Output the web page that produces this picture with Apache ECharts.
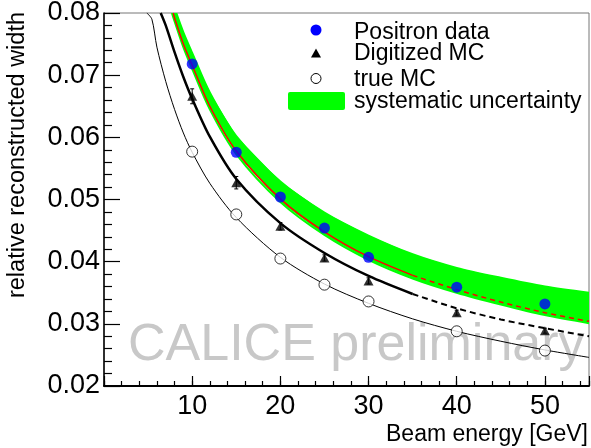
<!DOCTYPE html>
<html>
<head>
<meta charset="utf-8">
<script src="https://cdn.jsdelivr.net/npm/echarts@6/dist/echarts.min.js"></script>
<style>
  html, body { margin: 0; padding: 0; background: #fff; }
  #main { width: 591px; height: 448px; }
</style>
</head>
<body>
<div id="main"></div>
<script>
// measured points (beam energy in GeV)
var energies = [10, 15, 20, 25, 30, 40, 50];
var positronData = [0.0718, 0.0576, 0.0504, 0.0454, 0.0407, 0.0359, 0.0332];
var digitizedMC = [0.0666, 0.0527, 0.0457, 0.0406, 0.0369, 0.0318, 0.0289];
var digitizedErr = [0.0012, 0.0010, 0.0006, 0.0005, 0.0005, 0.0004, 0.0004];
var trueMC = [0.0577, 0.0476, 0.0405, 0.0363, 0.0336, 0.0288, 0.0257];

// fit curves
var posFitX = [7.85, 8, 9, 10, 12, 15, 20, 25, 30, 35];
var posFitY = [0.0800, 0.0792, 0.0750, 0.0716, 0.0650, 0.0578, 0.0501, 0.0448, 0.0408, 0.0378];
var posFitDashX = [35, 40, 45, 50, 55];
var posFitDashY = [0.0378, 0.0355, 0.0335, 0.0318, 0.0304];

var digiFitX = [6.43, 7, 8, 9, 10, 12, 15, 20, 25, 30, 35];
var digiFitY = [0.0800, 0.0780, 0.0737, 0.0697, 0.0662, 0.0601, 0.0533, 0.0462, 0.0414, 0.0377, 0.0348];
var digiFitDashX = [35, 40, 45, 50, 55];
var digiFitDashY = [0.0348, 0.0325, 0.0307, 0.0293, 0.0280];

var trueFitX = [4.86, 5.43, 6, 7, 8, 9, 10, 12, 15, 20, 25, 30, 35, 40, 45, 50, 55];
var trueFitY = [0.0800, 0.0790, 0.0745, 0.0690, 0.0645, 0.0607, 0.0576, 0.0526, 0.0471, 0.0407, 0.0364, 0.0333, 0.0308, 0.0288, 0.0272, 0.0258, 0.0246];

// systematic uncertainty band edges
var bandLowX = [7.7, 8, 9, 10, 12, 15, 20, 25, 30, 35, 40, 45, 50, 55];
var bandLow = [0.0800, 0.0787, 0.0745, 0.0710, 0.0645, 0.0573, 0.0496, 0.0443, 0.0403, 0.0373, 0.0350, 0.0331, 0.0314, 0.0301];
var bandHighX = [8.2, 9, 10, 12, 15, 20, 25, 30, 35, 40, 45, 50, 55];
var bandHigh = [0.0800, 0.0769, 0.0736, 0.0672, 0.0602, 0.0529, 0.0479, 0.0442, 0.0412, 0.0390, 0.0374, 0.0360, 0.0350];

var legendNames = ['Positron data', 'Digitized MC', 'true MC', 'systematic uncertainty'];

function pairs(xs, ys) {
    return xs.map(function (x, i) { return [x, ys[i]]; });
}

var myChart = echarts.init(document.getElementById('main'), null, { renderer: 'canvas' });

var FONT = '"Liberation Sans", Arial, sans-serif';

var option = {
    animation: false,
    backgroundColor: '#fff',
    grid: {
        left: 104, right: 2, top: 13, bottom: 62,
        containLabel: false,
        outerBoundsMode: 'none',
        show: true,
        borderColor: '#777',
        borderWidth: 1
    },
    xAxis: [
        {
            type: 'value', min: 0, max: 55, interval: 10,
            axisLine: { lineStyle: { color: '#000', width: 2 } },
            axisTick: { inside: true, length: 10, lineStyle: { color: '#000', width: 1.2 } },
            axisLabel: {
                color: '#000', fontSize: 27, fontFamily: FONT, margin: 7,
                formatter: function (v) { return (v > 0 && v % 10 === 0 && v <= 50) ? String(v) : ''; }
            },
            splitLine: { show: false }
        },
        {
            type: 'value', min: 0, max: 55, interval: 2, position: 'bottom',
            axisLine: { show: false },
            axisTick: { inside: true, length: 5, lineStyle: { color: '#000', width: 1.2 } },
            axisLabel: { show: false },
            splitLine: { show: false }
        }
    ],
    yAxis: {
        type: 'value', min: 0.02, max: 0.08, interval: 0.01,
        axisLine: { show: true, lineStyle: { color: '#000', width: 1.5 } },
        axisTick: { show: true, inside: true, length: 16, lineStyle: { color: '#000', width: 1.2 } },
        minorTick: { show: true, splitNumber: 5, length: 8, lineStyle: { color: '#000', width: 1.2 } },
        axisLabel: {
            color: '#000', fontSize: 27, fontFamily: FONT, margin: 4,
            formatter: function (v) { return v.toFixed(2); }
        },
        splitLine: { show: false }
    },
    graphic: [
        // watermark
        { type: 'text', z: 1, x: 128, y: 346, style: { text: 'CALICE preliminary', fill: '#c8c8c8', font: '52px ' + FONT, verticalAlign: 'middle' } },
        // axis titles
        { type: 'text', z: 10, x: 588, y: 435, style: { text: 'Beam energy [GeV]', fill: '#000', font: '23px ' + FONT, align: 'right', verticalAlign: 'middle' } },
        { type: 'text', z: 10, x: 17.5, y: 12, rotation: Math.PI / 2, style: { text: 'relative reconstructed width', fill: '#000', font: '23.5px ' + FONT, align: 'right', verticalAlign: 'middle' } },
        // legend
        { type: 'circle', z: 10, shape: { cx: 316, cy: 30, r: 5.5 }, style: { fill: '#0000ff' } },
        { type: 'polygon', z: 10, shape: { points: [[311, 57.5], [321, 57.5], [316, 48.5]] }, style: { fill: '#000' } },
        { type: 'circle', z: 10, shape: { cx: 316, cy: 78.5, r: 5 }, style: { fill: '#fff', stroke: '#000', lineWidth: 1 } },
        { type: 'rect', z: 10, shape: { x: 288, y: 92, width: 57, height: 18, r: 2 }, style: { fill: '#00ff00' } },
        { type: 'text', z: 10, x: 354, y: 33, style: { text: legendNames[0], fill: '#000', font: '23px ' + FONT, verticalAlign: 'middle' } },
        { type: 'text', z: 10, x: 354, y: 54, style: { text: legendNames[1], fill: '#000', font: '23px ' + FONT, verticalAlign: 'middle' } },
        { type: 'text', z: 10, x: 354, y: 79.5, style: { text: legendNames[2], fill: '#000', font: '23px ' + FONT, verticalAlign: 'middle' } },
        { type: 'text', z: 10, x: 354, y: 102, style: { text: legendNames[3], fill: '#000', font: '23px ' + FONT, verticalAlign: 'middle' } }
    ],
    series: [
        {
            name: legendNames[3],
            type: 'custom',
            z: 2,
            clip: true,
            data: [[bandLowX[0], bandLow[0]]],
            renderItem: function (params, api) {
                var hi = [], lo = [];
                for (var i = 0; i < bandHighX.length; i++) hi.push(api.coord([bandHighX[i], bandHigh[i]]));
                for (var j = bandLowX.length - 1; j >= 0; j--) lo.push(api.coord([bandLowX[j], bandLow[j]]));
                var ends = [hi[hi.length - 1], lo[0]];
                return {
                    type: 'group',
                    children: [
                        // smooth edges, plus a filler polygon without smoothing so the band stays filled
                        { type: 'polygon', shape: { points: hi.concat(lo) }, style: { fill: '#00ff00' } },
                        { type: 'polyline', shape: { points: hi, smooth: 0.3 }, style: { stroke: '#00ff00', lineWidth: 2, fill: null } },
                        { type: 'polyline', shape: { points: lo, smooth: 0.3 }, style: { stroke: '#00ff00', lineWidth: 2, fill: null } }
                    ]
                };
            }
        },
        {
            type: 'line', z: 4, data: pairs(posFitX, posFitY), showSymbol: false, smooth: 0.3,
            lineStyle: { color: '#ff0000', width: 1.5 }
        },
        {
            type: 'line', z: 4, data: pairs(posFitDashX, posFitDashY), showSymbol: false, smooth: 0.3,
            lineStyle: { color: '#ff0000', width: 1.5, type: [5, 4] }
        },
        {
            type: 'line', z: 4, data: pairs(digiFitX, digiFitY), showSymbol: false, smooth: 0.3,
            lineStyle: { color: '#000', width: 2.5 }
        },
        {
            type: 'line', z: 4, data: pairs(digiFitDashX, digiFitDashY), showSymbol: false, smooth: 0.3,
            lineStyle: { color: '#000', width: 2, type: [6, 4] }
        },
        {
            type: 'line', z: 4, data: pairs(trueFitX, trueFitY), showSymbol: false, smooth: 0.3,
            lineStyle: { color: '#000', width: 1 }
        },
        {
            type: 'custom', z: 5,
            data: energies.map(function (e, i) { return [e, digitizedMC[i], digitizedErr[i]]; }),
            renderItem: function (params, api) {
                var x = api.value(0), y = api.value(1), e = api.value(2);
                var lo = api.coord([x, y - e]), hi = api.coord([x, y + e]);
                return {
                    type: 'group',
                    children: [
                        { type: 'line', shape: { x1: lo[0], y1: lo[1], x2: hi[0], y2: hi[1] }, style: { stroke: '#000', lineWidth: 1 } },
                        { type: 'line', shape: { x1: hi[0] - 2, y1: hi[1], x2: hi[0] + 2, y2: hi[1] }, style: { stroke: '#000', lineWidth: 1 } },
                        { type: 'line', shape: { x1: lo[0] - 2, y1: lo[1], x2: lo[0] + 2, y2: lo[1] }, style: { stroke: '#000', lineWidth: 1 } }
                    ]
                };
            }
        },
        {
            name: legendNames[0], type: 'scatter', z: 6, data: pairs(energies, positronData),
            symbol: 'circle', symbolSize: 11, itemStyle: { color: '#0000ff' }
        },
        {
            name: legendNames[1], type: 'scatter', z: 6, data: pairs(energies, digitizedMC),
            symbol: 'triangle', symbolSize: [10, 9], itemStyle: { color: '#000' }
        },
        {
            name: legendNames[2], type: 'scatter', z: 6, data: pairs(energies, trueMC),
            symbol: 'circle', symbolSize: 11, itemStyle: { color: '#fff', borderColor: '#000', borderWidth: 1 }
        }
    ]
};

myChart.setOption(option);
</script>
</body>
</html>
